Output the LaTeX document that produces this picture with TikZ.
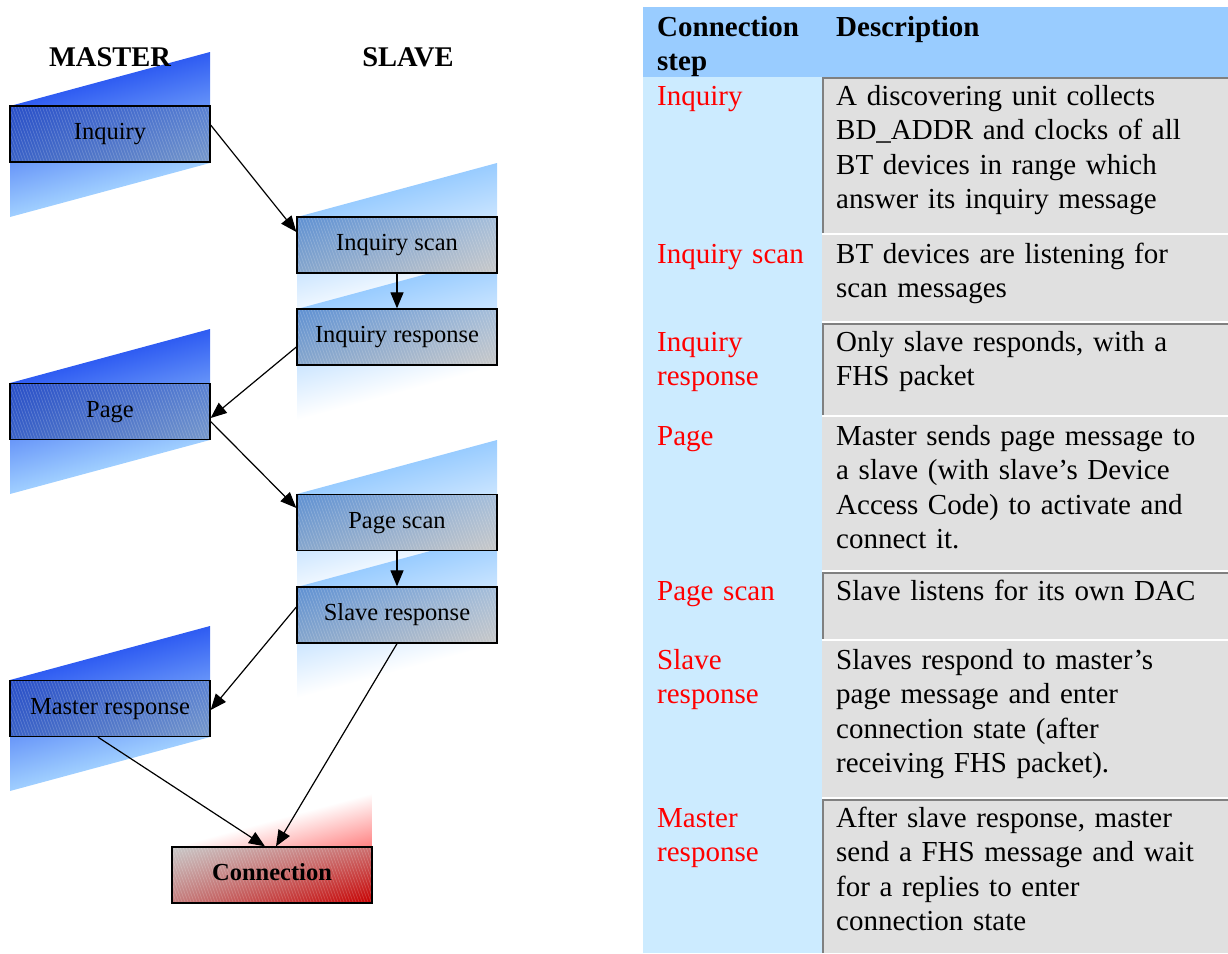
\documentclass[tikz,border=0pt]{standalone}
\usepackage{fontspec}
\setmainfont{Liberation Serif}
\usetikzlibrary{arrows.meta,shadings}

\definecolor{mastertop}{HTML}{2F5CF2}
\definecolor{masterbot}{HTML}{A0CFFF}
\definecolor{slavetop}{HTML}{99CCFF}
\definecolor{connpink}{HTML}{FF8080}
\definecolor{headblue}{HTML}{99CCFF}
\definecolor{colblue}{HTML}{CCEBFF}
\definecolor{cellgrey}{HTML}{E0E0E0}
\definecolor{rulegrey}{HTML}{808080}
\definecolor{stepred}{HTML}{FF0000}
% corner colours of the state boxes
\definecolor{mUL}{RGB}{40,78,200}
\definecolor{mUR}{RGB}{88,128,210}
\definecolor{mLL}{RGB}{58,98,198}
\definecolor{mLR}{RGB}{118,152,202}
\definecolor{sUL}{RGB}{94,144,210}
\definecolor{sUR}{RGB}{165,190,218}
\definecolor{sLL}{RGB}{134,166,204}
\definecolor{sLR}{RGB}{200,200,200}
\definecolor{cUL}{RGB}{200,200,200}
\definecolor{cUR}{RGB}{204,112,112}
\definecolor{cLL}{RGB}{196,124,124}
\definecolor{cLR}{RGB}{200,0,0}

\tikzset{
  statebox/.style={draw=black, line width=1.3pt, minimum width=200pt,
    minimum height=56pt, inner sep=0pt, text height=16pt, text depth=5pt,
    font=\fontsize{24.5}{28}\selectfont,
    % fine steep white hatching over the gradient
    path picture={\foreach \k in {0,3,...,222}
      \draw[white, opacity=0.2, line width=0.6pt]
        ([xshift={\k pt-22pt}]path picture bounding box.north west) -- ++(20.4pt,-56pt);}},
  masterbox/.style={statebox, upper left=mUL, upper right=mUR,
    lower left=mLL, lower right=mLR},
  slavebox/.style={statebox, upper left=sUL, upper right=sUR,
    lower left=sLL, lower right=sLR},
  connbox/.style={statebox, upper left=cUL, upper right=cUR,
    lower left=cLL, lower right=cLR},
  % slanted bands: a 200 x 111 rectangle sheared so its right side rises 54
  band/.style={transform canvas={shift={#1}, yslant=0.27}},
  masterfade/.style={top color=mastertop, bottom color=masterbot},
  slavefade/.style={top color=slavetop, bottom color=white},
  connfade/.style={top color=white, bottom color=connpink},
  flow/.style={line width=1.2pt, -{Triangle[length=16pt,width=13pt]}},
  headlabel/.style={anchor=base, inner sep=0pt, font=\fontsize{28.5}{32}\selectfont\bfseries},
  tabhead/.style={anchor=base west, inner sep=0pt, text width=170pt, align=left,
    font=\fontsize{29}{34.5}\selectfont\bfseries},
  steptext/.style={anchor=base west, inner sep=0pt, text width=160pt, align=left,
    text=stepred, font=\fontsize{29}{34.5}\selectfont},
  desctext/.style={anchor=base west, inner sep=0pt, text width=385pt, align=left,
    font=\fontsize{29}{34.5}\selectfont},
  rowrule/.style={draw=rulegrey, line width=2pt},
}

\begin{document}
\begin{tikzpicture}[x=1pt,y=-1pt]
\useasboundingbox (0,0) rectangle (1228,953);

% ---------- slanted gradient bands ----------
\begin{scope}[band={(10,106)}]  \shade[masterfade] (0,0) rectangle (200,111); \end{scope}
\begin{scope}[band={(10,383)}]  \shade[masterfade] (0,0) rectangle (200,111); \end{scope}
\begin{scope}[band={(10,680)}]  \shade[masterfade] (0,0) rectangle (200,111); \end{scope}
\begin{scope}[band={(297,217)}] \shade[slavefade] (0,0) rectangle (200,111); \end{scope}
\begin{scope}[band={(297,309)}] \shade[slavefade] (0,0) rectangle (200,111); \end{scope}
\begin{scope}[band={(297,494)}] \shade[slavefade] (0,0) rectangle (200,111); \end{scope}
\begin{scope}[band={(297,587)}] \shade[slavefade] (0,0) rectangle (200,111); \end{scope}
\begin{scope}[band={(172,847)}] \shade[connfade] (0,0) -- (200,0) -- (200,54) -- cycle; \end{scope}

% ---------- state diagram ----------
\node[headlabel] (mhead) at (110,66) {MASTER};
\node[headlabel] (shead) at (408,66) {SLAVE};

\node[masterbox] (inq)   at (110,134)   {Inquiry};
\node[slavebox]  (iscan) at (397,245)   {Inquiry scan};
\node[slavebox]  (iresp) at (397,337)   {Inquiry response};
\node[masterbox] (page)  at (110,411.5) {Page};
\node[slavebox]  (pscan) at (397,522.5) {Page scan};
\node[slavebox]  (sresp) at (397,615)   {Slave response};
\node[masterbox] (mresp) at (110,708.5) {Master response};
\node[connbox]   (conn)  at (272,875)   {\bfseries Connection};

% transitions
\draw[flow] ([yshift=9pt]inq.east) -- ([yshift=13pt]iscan.west);
\draw[flow] (iscan.south) -- (iresp.north);
\draw[flow] ([yshift=-10pt]iresp.west) -- ([yshift=-6.5pt]page.east);
\draw[flow] ([yshift=-10pt]page.east) -- ([yshift=14.5pt]pscan.west);
\draw[flow] (pscan.south) -- (sresp.north);
\draw[flow] ([yshift=8pt]sresp.west) -- ([yshift=-1.5pt]mresp.east);
\draw[flow] ([xshift=-12pt]mresp.south) -- ([xshift=-7pt]conn.north);
\draw[flow] (sresp.south) -- ([xshift=4pt]conn.north);

% ---------- table ----------
\fill[headblue] (643,7) rectangle (1228,77);
\fill[colblue] (643,77) rectangle (822,953);
\fill[cellgrey] (822,77)  rectangle (1228,233);
\fill[cellgrey] (822,235) rectangle (1228,321);
\fill[cellgrey] (822,323) rectangle (1228,415);
\fill[cellgrey] (822,417) rectangle (1228,570);
\fill[cellgrey] (822,572) rectangle (1228,639);
\fill[cellgrey] (822,641) rectangle (1228,797);
\fill[cellgrey] (822,799) rectangle (1228,953);
\draw[rowrule] (823,233) -- (823,78) -- (1228,78);
\draw[rowrule] (823,415) -- (823,324) -- (1228,324);
\draw[rowrule] (823,639) -- (823,573) -- (1228,573);
\draw[rowrule] (823,953) -- (823,800) -- (1228,800);

\node[tabhead] (hstep) at (657,36) {Connection\\step};
\node[tabhead] (hdesc) at (836,36) {Description};

\node[steptext] (s1) at (657,105) {Inquiry};
\node[desctext] (d1) at (836,105) {A discovering unit collects\\BD\_ADDR and clocks of all\\BT devices in range which\\answer its inquiry message};
\node[steptext] (s2) at (657,263) {Inquiry scan};
\node[desctext] (d2) at (836,263) {BT devices are listening for\\scan messages};
\node[steptext] (s3) at (657,351) {Inquiry\\response};
\node[desctext] (d3) at (836,351) {Only slave responds, with a\\FHS packet};
\node[steptext] (s4) at (657,445) {Page};
\node[desctext] (d4) at (836,445) {Master sends page message to\\a slave (with slave’s Device\\Access Code) to activate and\\connect it.};
\node[steptext] (s5) at (657,600) {Page scan};
\node[desctext] (d5) at (836,600) {Slave listens for its own DAC};
\node[steptext] (s6) at (657,669) {Slave\\response};
\node[desctext] (d6) at (836,669) {Slaves respond to master’s\\page message and enter\\connection state (after\\receiving FHS packet).};
\node[steptext] (s7) at (657,827) {Master\\response};
\node[desctext] (d7) at (836,827) {After slave response, master\\send a FHS message and wait\\for a replies to enter\\connection state};
\end{tikzpicture}
\end{document}
